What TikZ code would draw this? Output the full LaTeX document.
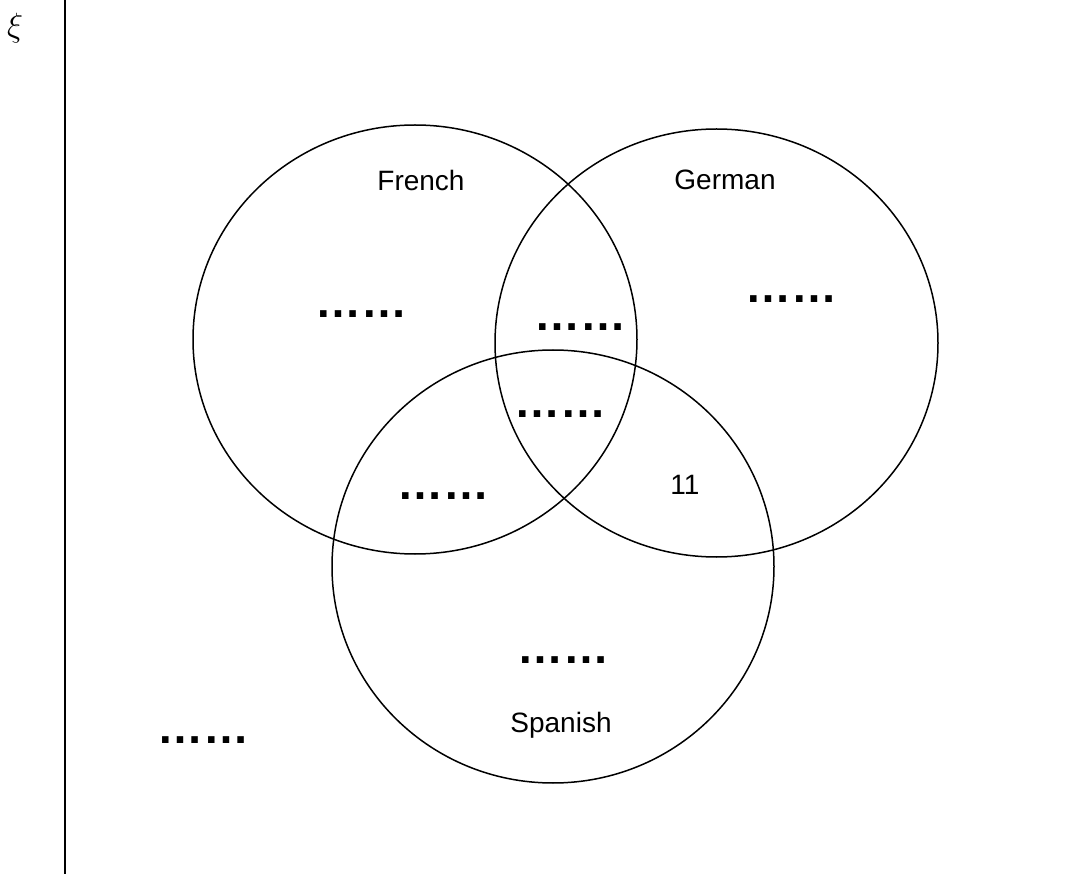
\documentclass[tikz,border=0pt]{standalone}
\usepackage{fontspec}
\setmainfont{Liberation Sans}

\begin{document}
\begin{tikzpicture}[x=1pt, y=-1pt, line width=1.5pt,
  setname/.style={font=\fontsize{28}{32}\selectfont},
  gap/.style={font=\bfseries\fontsize{46}{50}\selectfont, anchor=base, inner sep=0pt}]
\useasboundingbox (0,0) rectangle (1077,874);
% Universal set
\draw[line width=2pt] (65,0) -- (65,874);
\node[scale=1.35, font=\fontsize{28}{32}\selectfont] (xi) at (15,28) {$\xi$};
% Circles
\draw (415,339.5) ellipse [x radius=222, y radius=214.5];
\draw (716.5,343) ellipse [x radius=221.5, y radius=214];
\draw (553,566.5) ellipse [x radius=221, y radius=216.5];
\node[setname] (french) at (421,180) {French};
\node[setname] (german) at (725,180) {German};
\node[setname] (spanish) at (561,725) {Spanish};
% Regions
\foreach \x/\y/\name in {361/318/fo,580/331/fg,791/303/go,560/418/fgs,443/500/fs,563/663/so,203/743/out} {
  \node[gap] (\name) at (\x,\y) {……};
}
\node[setname] (gs) at (685,485) {11};
\end{tikzpicture}
\end{document}
